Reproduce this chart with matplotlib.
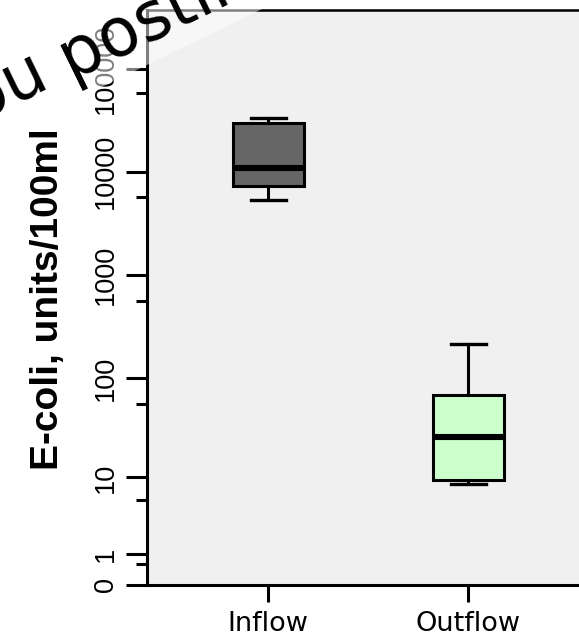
import numpy as np
import matplotlib
matplotlib.use("Agg")
import matplotlib.pyplot as plt
from matplotlib.patches import Polygon

# ---- data ----
categories = ["Inflow", "Outflow"]
whisker_low = [5280, 8.4]
q1 = [7310, 9.45]
median = [10800, 26]
q3 = [29400, 68.7]
whisker_high = [32900, 216]
box_colors = ["#666666", "#ccffcc"]

major_ticks = [0, 1, 10, 100, 1000, 10000, 100000]
major_labels = ["0", "1", "10", "100", "1000", "10000", "100000"]
minor_ticks = [0.58, 5.6, 55, 557, 5730, 57900]
y_label = "E-coli, units/100ml"
watermark_left = "you "
watermark_right = "posting"

W, H = 579, 637
fig = plt.figure(figsize=(W / 100, H / 100), dpi=100)
fig.patch.set_facecolor("white")

def px(x0, y0):
    return x0 / W, 1 - y0 / H

ax_left, ax_right, ax_top, ax_bottom = 147, 589, 10, 585
ax = fig.add_axes([ax_left / W, 1 - ax_bottom / H, (ax_right - ax_left) / W,
                   (ax_bottom - ax_top) / H])
ax.set_facecolor("#f0f0f0")

fwd = lambda v: np.log10(np.asarray(v, dtype=float) + 1)
inv = lambda t: 10 ** np.asarray(t, dtype=float) - 1
ax.set_yscale("function", functions=(fwd, inv))

stats = []
for i, c in enumerate(categories):
    stats.append(dict(label=c, whislo=whisker_low[i], q1=q1[i], med=median[i],
                      q3=q3[i], whishi=whisker_high[i], fliers=[]))

bp = ax.bxp(stats, positions=[1, 2], widths=0.355, capwidths=0.175,
            patch_artist=True, showfliers=False,
            boxprops=dict(linewidth=2.2, edgecolor="black"),
            medianprops=dict(linewidth=4.4, color="black", solid_capstyle="butt"),
            whiskerprops=dict(linewidth=2.2, color="black"),
            capprops=dict(linewidth=2.4, color="black"))
for patch, col in zip(bp["boxes"], box_colors):
    patch.set_facecolor(col)

ax.set_xlim(1 - 121 / 200, 2 + 121 / 200)
ax.set_ylim(0, inv(5.567))

ax.set_yticks(major_ticks)
ax.set_yticklabels(major_labels, rotation=90, va="center",
                   fontfamily="Liberation Sans", fontsize=19.5, color="black")
ax.set_yticks(minor_ticks, minor=True)
ax.yaxis.set_minor_formatter(matplotlib.ticker.NullFormatter())
ax.tick_params(axis="y", which="major", length=15, width=2.2, pad=5)
ax.tick_params(axis="y", which="minor", length=8, width=2.2)
ax.set_xticks([1, 2])
ax.set_xticklabels(categories, fontfamily="DejaVu Sans", fontsize=19.5, color="black")
ax.tick_params(axis="x", length=12, width=2.2, pad=7)

for s in ["left", "bottom"]:
    ax.spines[s].set_linewidth(2.2)
ax.spines["top"].set_linewidth(1.8)
ax.spines["right"].set_visible(False)

fig.text(48 / W, 1 - 299 / H, y_label, rotation=90, ha="center", va="center",
         fontfamily="Liberation Sans", fontweight="bold", fontsize=28)

# semi-transparent watermark band
slope = -55 / 113
def line_y(x):
    return 65 + (x - 147) * slope
poly_px = [(-20, line_y(-20)), (ax_left + 300, line_y(ax_left + 300)), (ax_left + 300, -20), (-20, -20)]
poly = Polygon([px(*p) for p in poly_px], closed=True, transform=fig.transFigure,
               facecolor="white", alpha=0.5, edgecolor="none", zorder=10)
fig.add_artist(poly)

rot = 26
ax_x, ax_y = px(71, 78)
for txt, ha in [(watermark_left, "right"), (watermark_right, "left")]:
    fig.text(ax_x, ax_y, txt, rotation=rot, rotation_mode="anchor",
             ha=ha, va="baseline", fontsize=48, fontfamily="DejaVu Sans",
             color="black", zorder=11)

fig.savefig("out.png", dpi=100)
